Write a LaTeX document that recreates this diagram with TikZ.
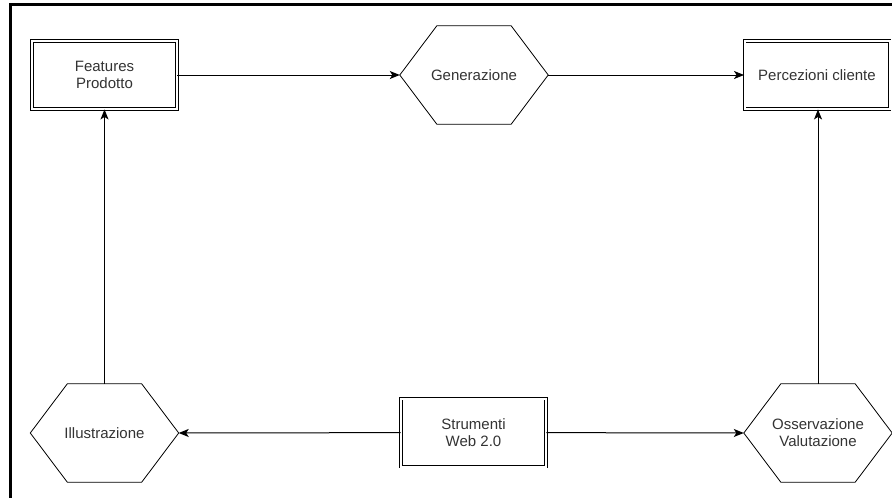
\documentclass[tikz,border=0pt]{standalone}
\usepackage{fontspec}
\setmainfont{Liberation Sans}
\usepackage{xcolor}
\usetikzlibrary{arrows.meta}
\definecolor{txtgray}{HTML}{333333}

\begin{document}
\begin{tikzpicture}[x=1pt, y=-1pt, >={Stealth[length=10pt, width=8pt, inset=2.5pt]},
  every node/.style={font=\fontsize{15}{17}\selectfont, text=txtgray},
  box/.style={draw, double, double distance=2pt, line width=0.9pt, minimum width=145pt, minimum height=68pt, align=center, inner sep=0pt},
  hexbox/.style={minimum width=148pt, minimum height=98pt, align=center, inner sep=0pt},
  hexline/.style={line width=0.8pt, line join=miter},
  link/.style={->, line width=1pt}]

\useasboundingbox (0,0) rectangle (892,498);

  % Outer frame
\draw[line width=3pt] (10.5,498) -- (10.5,4.5) -- (892,4.5);

  % Define coordinates for nodes
\node[box] (feat) at (104.5, 75) {Features\\Prodotto}; \node[hexbox] (gen) at (474, 75) {Generazione}; \node[box] (perc) at (817, 75) {Percezioni cliente}; \node[hexbox] (ill) at (104.5, 433) {Illustrazione}; \node[box] (web) at (473.5, 432.5) {Strumenti\\Web 2.0}; \node[hexbox] (oss) at (818, 433) {Osservazione\\Valutazione};

  % Hexagon outlines
\foreach \n in {gen, ill, oss} \draw[hexline] (\n.west) -- ([xshift=37pt]\n.north west) -- ([xshift=-37pt]\n.north east) -- (\n.east) -- ([xshift=-37pt]\n.south east) -- ([xshift=37pt]\n.south west) -- cycle;

  % Draw arrows between nodes
\draw[link] (feat) -- (gen.west); \draw[link] (gen.east) -- (perc); \draw[link] (ill.north) -- (feat); \draw[link] (web) -- (ill.east); \draw[link] (web) -- (oss.west); \draw[link] (oss.north) -- (oss.north |- perc.south);

\end{tikzpicture}
\end{document}
